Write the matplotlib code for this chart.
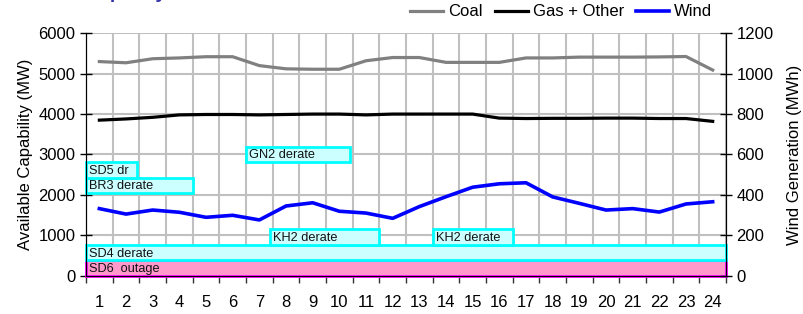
import matplotlib
matplotlib.use("Agg")
import matplotlib.pyplot as plt
from matplotlib.patches import Rectangle

plt.rcParams['font.family'] = ['Liberation Sans', 'DejaVu Sans']

hours = list(range(1, 25))
coal = [5300, 5270, 5370, 5390, 5420, 5420, 5200, 5120, 5110, 5110, 5320, 5400,
        5400, 5280, 5280, 5280, 5390, 5390, 5410, 5410, 5410, 5415, 5425, 5090]
gas_other = [3850, 3880, 3920, 3980, 3990, 3990, 3980, 3990, 4000, 4000, 3980, 4000,
             4000, 4000, 4000, 3900, 3890, 3895, 3895, 3900, 3900, 3890, 3890, 3820]
wind = [332, 305, 325, 314, 289, 299, 276, 345, 361, 319, 310, 284,
        342, 391, 438, 455, 460, 390, 358, 325, 332, 315, 355, 366]

# outage / derate annotations: label, x start, x end (category boundaries), y low, y high (MW)
events = ["SD6  outage", "SD4 derate", "KH2 derate", "KH2 derate", "BR3 derate", "SD5 dr", "GN2 derate"]
ev_x0 = [0, 0, 6.9, 13, 0, 0, 6]
ev_x1 = [24, 24, 11, 16, 4, 1.9, 9.9]
ev_y0 = [0, 380, 760, 760, 2050, 2430, 2820]
ev_y1 = [380, 760, 1150, 1150, 2430, 2810, 3190]
ev_kind = ["outage", "derate", "derate", "derate", "derate", "derate", "derate"]

fig = plt.figure(figsize=(8.04, 3.14), dpi=100)
ax = fig.add_axes([0.107, 0.122, 0.796, 0.772])
ax2 = ax.twinx()

# grid
ax.set_xlim(0, 24)
ax.set_ylim(0, 6000)
ax.set_yticks(range(0, 6001, 1000))
ax.set_xticks(range(0, 25))
ax.set_xticklabels([])
ax.set_xticks([h - 0.5 for h in hours], minor=True)
ax.set_xticklabels([str(h) for h in hours], minor=True)
ax.grid(True, which='major', color='#c0c0c0', linewidth=1.5)
ax.set_axisbelow(True)
ax.tick_params(axis='x', which='major', direction='out', length=5, width=1, colors='#333333')
ax.tick_params(axis='x', which='minor', length=0, pad=14, labelsize=12)
ax.tick_params(axis='y', direction='inout', length=8, width=1, labelsize=12)
ax.spines['top'].set_visible(False)
ax2.spines['top'].set_visible(False)

# annotation boxes
for lab, x0, x1, y0, y1, kind in zip(events, ev_x0, ev_x1, ev_y0, ev_y1, ev_kind):
    if kind == "outage":
        fc, ec = '#ff99cc', '#ff00ff'
    else:
        fc, ec = '#ccffff', '#00ffff'
    ax.add_patch(Rectangle((x0, y0), x1 - x0, y1 - y0, facecolor=fc, edgecolor=ec,
                           linewidth=2, zorder=3, clip_on=False))
    ax.text(x0 + 0.12, (y0 + y1) / 2 - 25, lab, fontsize=9.2, va='center', ha='left',
            color='#111111', zorder=4)

x = [h - 0.5 for h in hours]
l1, = ax.plot(x, coal, color='#808080', linewidth=2.3, label='Coal', zorder=5)
l2, = ax.plot(x, gas_other, color='black', linewidth=2.3, label='Gas + Other', zorder=5)
l3, = ax2.plot(x, wind, color='#0000ff', linewidth=2.6, label='Wind', zorder=5)

ax2.set_ylim(0, 1200)
ax2.set_yticks(range(0, 1201, 200))
ax2.tick_params(axis='y', direction='inout', length=8, width=1, labelsize=12)

ax.set_ylabel('Available Capability (MW)', fontsize=12, labelpad=4)
ax2.set_ylabel('Wind Generation (MWh)', fontsize=12, labelpad=10)

fig.legend(handles=[l1, l2, l3], labels=['Coal', 'Gas + Other', 'Wind'], ncol=3,
           loc='center right', bbox_to_anchor=(0.886, 0.962), frameon=False,
           fontsize=12, handlelength=2.0, handletextpad=0.3, columnspacing=0.7,
           borderaxespad=0, borderpad=0)

fig.text(0.106, 1 + 2.0 / 314, 'Capacity', color='#3333aa', fontsize=14,
         fontweight='bold', va='baseline', ha='left')

fig.savefig('out.png', dpi=100)
